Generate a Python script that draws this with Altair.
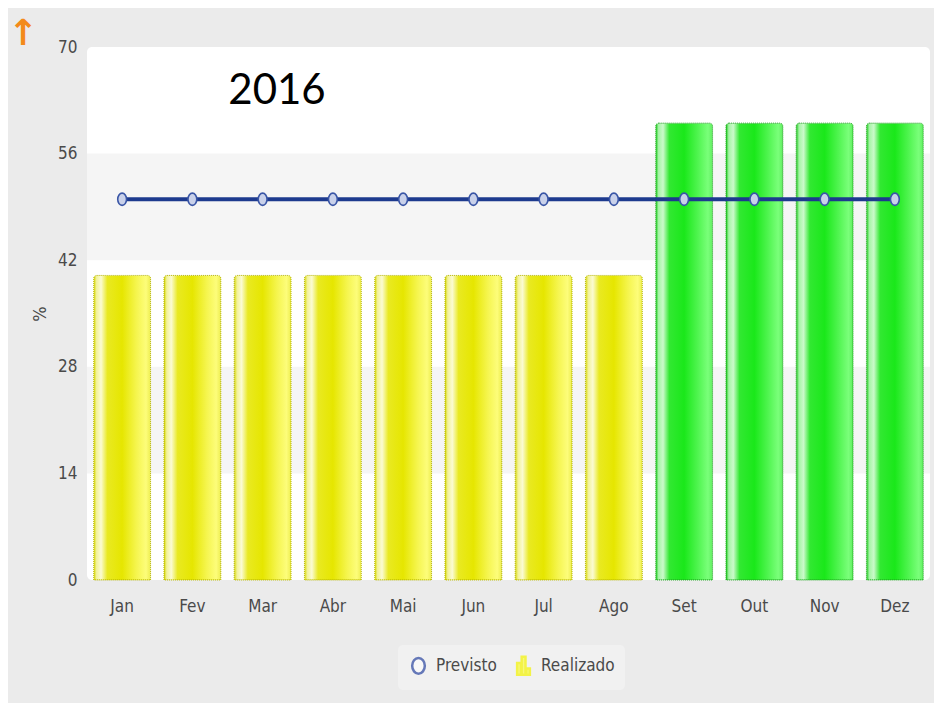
import altair as alt
import pandas as pd

# ---- data ----
months = ["Jan", "Fev", "Mar", "Abr", "Mai", "Jun", "Jul", "Ago", "Set", "Out", "Nov", "Dez"]
previsto = [50, 50, 50, 50, 50, 50, 50, 50, 50, 50, 50, 50]
realizado = [40, 40, 40, 40, 40, 40, 40, 40, 60, 60, 60, 60]
y_ticks = [0, 14, 28, 42, 56, 70]
band_lo = [42, 14]
band_hi = [56, 28]
series_names = ["Previsto", "Realizado"]
chart_title = "2016"
y_title = "%"

df = pd.DataFrame({"mes": months, "previsto": previsto, "realizado": realizado})
bands = pd.DataFrame({"lo": band_lo, "hi": band_hi})
leg = pd.DataFrame({"series": series_names})

FONT = "DejaVu Sans Condensed, DejaVu Sans"
LABEL = "#4a4a4a"

x_enc = alt.X("mes:N", sort=months, title=None,
              scale=alt.Scale(paddingInner=0.19, paddingOuter=0.095),
              axis=alt.Axis(labelAngle=0, domain=False, ticks=False, labelPadding=18,
                            labelFontSize=17, labelFont=FONT, labelColor=LABEL, grid=False))
y_scale = alt.Scale(domain=[0, 70], nice=False)
y_enc_axis = alt.Axis(values=y_ticks, domain=False, ticks=False, grid=False, labelPadding=10,
                      labelFontSize=17, labelFont=FONT, labelColor=LABEL,
                      title=y_title, titleFontSize=18, titleFont=FONT, titleColor=LABEL,
                      titleFontWeight="normal", titlePadding=8)

def grad(stops):
    return alt.Gradient(gradient="linear", x1=0, x2=1, y1=0, y2=0,
                        stops=[alt.GradientStop(offset=o, color=c) for o, c in stops])

yellow = grad([(0, "#d6d600"), (0.05, "#f2f29a"), (0.13, "#fbfbd2"), (0.24, "#e9e922"),
               (0.5, "#e6e600"), (0.75, "#f5f54e"), (0.92, "#fdfd7a"), (1, "#eeee50")])
green = grad([(0, "#12c812"), (0.05, "#a6f4a6"), (0.13, "#cafaca"), (0.24, "#32e832"),
              (0.5, "#1ae81a"), (0.75, "#52f552"), (0.92, "#7aff7a"), (1, "#60ee60")])

plot_bg = alt.Chart(pd.DataFrame({"lo": [y_ticks[0]], "hi": [y_ticks[-1]]})).mark_rect(
    color="#ffffff", cornerRadius=5).encode(
    x=alt.value(0), x2=alt.value("width"),
    y=alt.Y("hi:Q", scale=y_scale, axis=y_enc_axis), y2="lo:Q")

band_layer = alt.Chart(bands).mark_rect(color="#f5f5f5").encode(
    x=alt.value(0), x2=alt.value("width"),
    y=alt.Y("hi:Q", scale=y_scale, axis=y_enc_axis), y2="lo:Q")

base = alt.Chart(df)

bars_y = base.transform_filter("datum.realizado < datum.previsto").mark_bar(
    fill=yellow, stroke="#b9b900", strokeDash=[1, 1], strokeWidth=1,
    cornerRadiusTopLeft=3, cornerRadiusTopRight=3).encode(
    x=x_enc, y=alt.Y("realizado:Q", scale=y_scale, axis=y_enc_axis))

bars_g = base.transform_filter("datum.realizado >= datum.previsto").mark_bar(
    fill=green, stroke="#22a822", strokeDash=[1, 1], strokeWidth=1,
    cornerRadiusTopLeft=3, cornerRadiusTopRight=3).encode(
    x=x_enc, y=alt.Y("realizado:Q", scale=y_scale, axis=y_enc_axis))

ELLIPSE = "M0,-1 A0.72,1 0 1,1 0,1 A0.72,1 0 1,1 0,-1 Z"
RING = "M0,-1 A0.8,1 0 1,1 0,1 A0.8,1 0 1,1 0,-1 Z"
BARS = "M-0.7,1 L-0.7,-0.3 L-0.28,-0.3 L-0.28,1 Z M-0.2,1 L-0.2,-1 L0.22,-1 L0.22,1 Z M0.3,1 L0.3,0.3 L0.7,0.3 L0.7,1 Z"

line = base.mark_line(color="#1d3a8e", strokeWidth=4).encode(
    x=x_enc, y=alt.Y("previsto:Q", scale=y_scale, axis=y_enc_axis))

pts = base.mark_point(shape=ELLIPSE, size=150, filled=True, fill="#c9d1ea",
                      stroke="#3a56a6", strokeWidth=1.6, opacity=1).encode(
    x=x_enc, y=alt.Y("previsto:Q", scale=y_scale, axis=y_enc_axis))

title_layer = alt.Chart(pd.DataFrame({"t": [chart_title]})).mark_text(
    font="Lato", fontSize=42, color="#000000", align="center", baseline="alphabetic").encode(
    text="t:N", x=alt.value(190), y=alt.value(57))

arrow = alt.Chart(pd.DataFrame({"t": ["\u2191"]})).mark_text(
    font="DejaVu Sans", fontSize=36, fontWeight="bold", color="#f38a1a",
    align="center", baseline="middle").encode(
    text="t:N", x=alt.value(-64), y=alt.value(-13))

legend_layer = alt.Chart(leg).transform_filter("false").mark_point(filled=True).encode(
    fill=alt.Fill("series:N", scale=alt.Scale(domain=series_names, range=["#ffffff", "#ffff00"]),
                  legend=alt.Legend(title=None, orient="none", legendX=311, legendY=598,
                                    direction="horizontal", columns=2, columnPadding=15,
                                    padding=10, fillColor="#f1f1f1", cornerRadius=5,
                                    labelFont=FONT, labelFontSize=17, labelColor=LABEL,
                                    labelOffset=7, symbolStrokeWidth=2.5, symbolOpacity=1)),
    stroke=alt.Stroke("series:N", scale=alt.Scale(domain=series_names, range=["#2a45a0", "#f5f500"]),
                      legend=alt.Legend(title=None)),
    shape=alt.Shape("series:N", scale=alt.Scale(domain=series_names, range=[RING, BARS]),
                    legend=alt.Legend(title=None)),
    size=alt.Size("series:N", scale=alt.Scale(domain=series_names, range=[250, 330]),
                  legend=alt.Legend(title=None)),
)

chart = alt.layer(plot_bg, band_layer, bars_y, bars_g, line, pts, title_layer, arrow, legend_layer).properties(
    width=843, height=533,
    autosize=alt.AutoSizeParams(type="none"),
    padding={"left": 79, "top": 39, "right": 4, "bottom": 123},
    background="#ebebeb",
).configure_view(strokeWidth=0)

chart.save("out.html", embed_options={"renderer": "svg", "actions": False})
